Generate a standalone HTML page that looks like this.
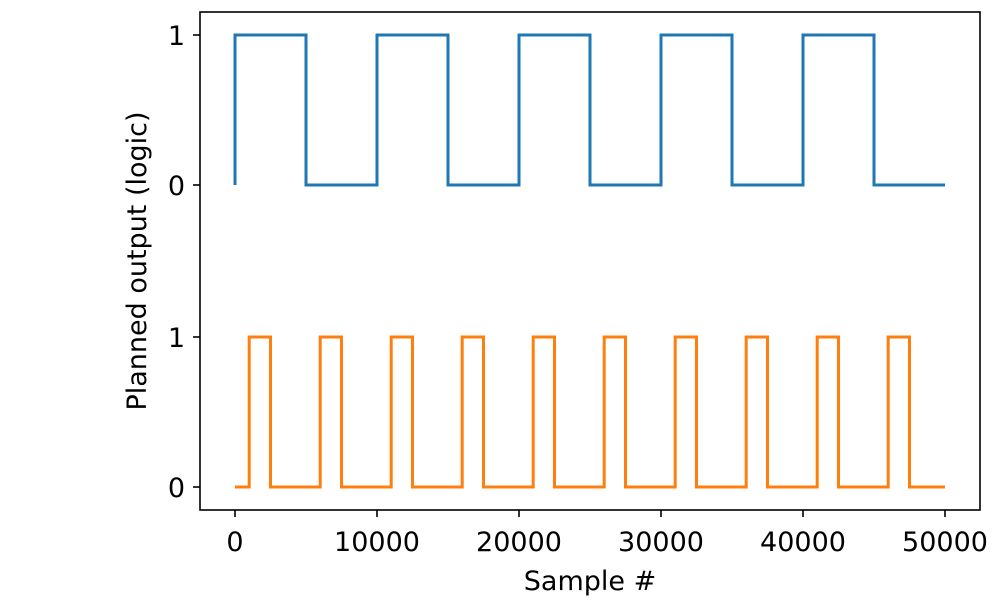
<!DOCTYPE html>
<html><head><meta charset="utf-8"><style>body{margin:0;background:#fff}svg{display:block}text{font-family:"DejaVu Sans","Liberation Sans",sans-serif;font-size:27px;fill:#000}</style></head>
<body>
<svg width="1000" height="600" viewBox="0 0 1000 600">
<polyline fill="none" stroke="#1f77b4" stroke-width="3" stroke-linejoin="miter" points="235,185 235,35 306,35 306,185 377,185 377,35 448,35 448,185 519,185 519,35 590,35 590,185 661,185 661,35 732,35 732,185 803,185 803,35 874,35 874,185 945,185"/>
<polyline fill="none" stroke="#ff7f0e" stroke-width="3" points="235,487 249.2,487 249.2,337 270.5,337 270.5,487 320.2,487 320.2,337 341.5,337 341.5,487 391.2,487 391.2,337 412.5,337 412.5,487 462.2,487 462.2,337 483.5,337 483.5,487 533.2,487 533.2,337 554.5,337 554.5,487 604.2,487 604.2,337 625.5,337 625.5,487 675.2,487 675.2,337 696.5,337 696.5,487 746.2,487 746.2,337 767.5,337 767.5,487 817.2,487 817.2,337 838.5,337 838.5,487 888.2,487 888.2,337 909.5,337 909.5,487 945,487"/>
<rect x="200" y="12" width="780" height="498" fill="none" stroke="#000" stroke-width="1.6"/>
<g stroke="#000" stroke-width="1.6">
<line x1="193" y1="35" x2="200" y2="35"/><line x1="193" y1="185" x2="200" y2="185"/><line x1="193" y1="337" x2="200" y2="337"/><line x1="193" y1="487" x2="200" y2="487"/>
<line x1="235" y1="510" x2="235" y2="517"/><line x1="377" y1="510" x2="377" y2="517"/><line x1="519" y1="510" x2="519" y2="517"/><line x1="661" y1="510" x2="661" y2="517"/><line x1="803" y1="510" x2="803" y2="517"/><line x1="945" y1="510" x2="945" y2="517"/>
</g>
<g text-anchor="end"><text x="185" y="45">1</text><text x="185" y="195">0</text><text x="185" y="347">1</text><text x="185" y="497">0</text></g>
<g text-anchor="middle"><text x="235" y="551">0</text><text x="377" y="551">10000</text><text x="519" y="551">20000</text><text x="661" y="551">30000</text><text x="803" y="551">40000</text><text x="945" y="551">50000</text>
<text x="590" y="590">Sample #</text>
<text transform="translate(146,261) rotate(-90)">Planned output (logic)</text></g>
</svg>
</body></html>
